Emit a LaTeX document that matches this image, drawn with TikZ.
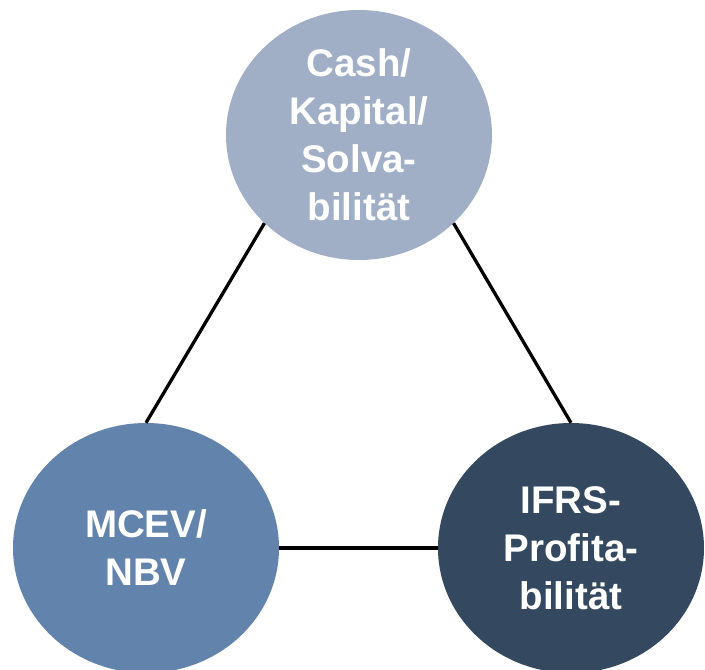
\documentclass[tikz,border=0pt]{standalone}
\usepackage{fontspec}
\setmainfont{Liberation Sans}
\usepackage{xcolor}
\usetikzlibrary{shapes.geometric, positioning}

\definecolor{capblue}{HTML}{A0AEC6}
\definecolor{mcevblue}{HTML}{6283AC}
\definecolor{ifrsblue}{HTML}{34495F}

\begin{document}
\begin{tikzpicture}[
    x=1pt, y=-1pt,
    pillar/.style={ellipse, draw=none, minimum width=266pt, minimum height=250pt, inner sep=0pt,
        text=white, align=center, font=\fontsize{38.5}{48}\selectfont\bfseries},
    link/.style={draw=black, line width=3.3pt}
]
    \useasboundingbox (0,0) rectangle (705,670);

    % Three pillars
    \node[pillar, fill=capblue] (cap) at (359,135) {Cash/\\Kapital/\\Solva-\\bilität};
    \node[pillar, fill=mcevblue] (mcev) at (146,548) {MCEV/\\NBV};
    \node[pillar, fill=ifrsblue] (ifrs) at (571,548) {IFRS-\\Profita-\\bilität};

    % Connections
    \draw[link] (cap.223) -- (mcev.north);
    \draw[link] (cap.317) -- (ifrs.north);
    \draw[link] (mcev.east) -- (ifrs.west);
\end{tikzpicture}
\end{document}
